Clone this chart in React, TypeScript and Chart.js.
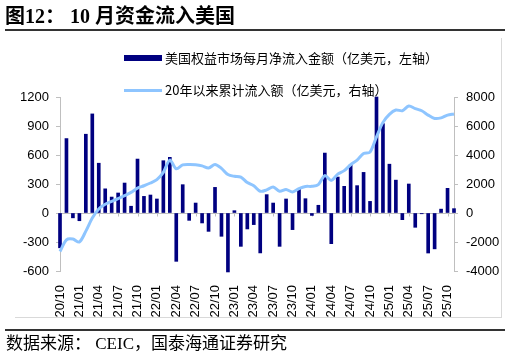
import React, { useEffect, useRef } from "react";
import { Chart, registerables } from "chart.js";
Chart.register(...registerables);

const months = [
  "20/10","20/11","20/12","21/01","21/02","21/03","21/04","21/05","21/06","21/07","21/08","21/09",
  "21/10","21/11","21/12","22/01","22/02","22/03","22/04","22/05","22/06","22/07","22/08","22/09",
  "22/10","22/11","22/12","23/01","23/02","23/03","23/04","23/05","23/06","23/07","23/08","23/09",
  "23/10","23/11","23/12","24/01","24/02","24/03","24/04","24/05","24/06","24/07","24/08","24/09",
  "24/10","24/11","24/12","25/01","25/02","25/03","25/04","25/05","25/06","25/07","25/08","25/09",
  "25/10","25/11",
];

// 美国权益市场每月净流入金额（亿美元，左轴）
const monthlyFlow = [
  -360, 770, -50, -80, 815, 1025, 515, 250, 165, 207, 310, 70,
  558, 172, 186, 145, 541, 576, -500, 293, -76, 103, -103, -190,
  265, -241, -610, 24, -345, -165, -120, -413, 190, 103, -345, 145,
  -172, 248, 148, -25, 80, 620, -317, 372, 276, 496, 283, 420,
  120, 1200, 924, 505, 340, -69, 300, -148, -8, -414, -371, 40,
  255, 45,
];

// 20年以来累计流入额（亿美元，右轴）
const cumulativeFlow = [
  -2650, -1850, -1800, -2000, -1250, -350, 280, 600, 800, 990, 1200, 1420,
  1720, 1880, 2070, 2300, 2800, 3650, 3050, 3320, 3350, 3330, 3250, 3100,
  3350, 3080, 2650, 2530, 2480, 2100, 1880, 1500, 1590, 1800, 1500, 1620,
  1450, 1680, 1830, 1840, 1960, 2580, 2250, 2680, 2920, 3330, 3650, 4100,
  4200, 5250, 6250, 6800, 7100, 7050, 7380, 7200, 7050, 6750, 6520, 6560,
  6750, 6830,
];

const leftMin = -600, leftMax = 1200, leftStep = 300;
const rightMin = -4000, rightMax = 8000, rightStep = 2000;

const BAR = "#000080";
const LINE = "#8ec5ff";
const AXIS = "#bfbfbf";
const tickFont = { family: '"Liberation Sans", Arial, sans-serif', size: 13 };

export default function App() {
  const ref = useRef<HTMLCanvasElement>(null);

  useEffect(() => {
    document.body.style.margin = "0";
    const zeroLine = {
      id: "zeroLine",
      beforeDatasetsDraw(chart: any) {
        const { ctx, chartArea, scales } = chart;
        const y = Math.round(scales.y.getPixelForValue(0)) + 0.5;
        ctx.save();
        ctx.strokeStyle = AXIS;
        ctx.lineWidth = 1;
        ctx.beginPath();
        ctx.moveTo(chartArea.left, y);
        ctx.lineTo(chartArea.right, y);
        for (let i = 0; i < months.length; i += 3) {
          const x = Math.round(scales.x.getPixelForValue(i)) + 0.5;
          ctx.moveTo(x, y);
          ctx.lineTo(x, y + 3);
        }
        ctx.stroke();
        ctx.restore();
      },
    };
    const chart = new Chart(ref.current!, {
      type: "bar",
      data: {
        labels: months,
        datasets: [
          {
            type: "line",
            data: cumulativeFlow,
            yAxisID: "y1",
            borderColor: LINE,
            borderWidth: 3,
            pointRadius: 0,
            tension: 0.3,
            order: 1,
            clip: 5,
          } as any,
          {
            type: "bar",
            data: monthlyFlow,
            yAxisID: "y",
            backgroundColor: BAR,
            barThickness: 3,
            order: 2,
            clip: 5,
          } as any,
        ],
      },
      options: {
        animation: false,
        responsive: false,
        devicePixelRatio: 1,
        layout: { padding: { top: 97, left: 0, right: 0, bottom: 0 } },
        plugins: { legend: { display: false }, tooltip: { enabled: false } },
        scales: {
          x: {
            type: "category",
            offset: false,
            grid: { display: false },
            border: { display: false },
            ticks: {
              autoSkip: false,
              minRotation: 90,
              maxRotation: 90,
              padding: 6,
              color: "#000",
              font: tickFont,
              callback: (_v: any, i: number) => (i % 3 === 0 ? months[i] : ""),
            },
            afterFit: (s: any) => { s.height = 84; },
          },
          y: {
            position: "left",
            min: leftMin,
            max: leftMax,
            ticks: { stepSize: leftStep, color: "#000", font: tickFont, padding: 7, callback: (v: any) => String(v) },
            grid: { drawOnChartArea: false, tickLength: 4, color: AXIS },
            border: { color: AXIS },
            afterFit: (s: any) => { s.width = 60; },
          },
          y1: {
            position: "right",
            min: rightMin,
            max: rightMax,
            ticks: { stepSize: rightStep, color: "#000", font: tickFont, padding: 8, callback: (v: any) => String(v) },
            grid: { drawOnChartArea: false, tickLength: 4, color: AXIS },
            border: { color: AXIS },
            afterFit: (s: any) => { s.width = 56; },
          },
        },
      },
      plugins: [zeroLine],
    });
    return () => chart.destroy();
  }, []);

  const cjk = '"Noto Sans CJK SC", sans-serif';
  const serif = '"Liberation Serif", "Noto Sans CJK SC", serif';
  return (
    <div style={{ position: "relative", width: 510, height: 355, background: "#fff", overflow: "hidden" }}>
      <canvas ref={ref} width={510} height={355} style={{ position: "absolute", left: 0, top: 0, width: 510, height: 355 }} />
      <div style={{ position: "absolute", left: 5, top: 3, fontFamily: serif, fontWeight: "bold", fontSize: 20, lineHeight: "26px", whiteSpace: "pre", color: "#000" }}>
        {"图12： 10 月资金流入美国"}
      </div>
      <div style={{ position: "absolute", left: 5, top: 29, width: 500, height: 1.5, background: "#333" }} />
      <div style={{ position: "absolute", left: 501, top: 38, width: 1, height: 280, background: "#d9d9d9" }} />
      <div style={{ position: "absolute", left: 15, top: 317, width: 487, height: 1, background: "#d9d9d9" }} />
      <div style={{ position: "absolute", left: 124, top: 55, width: 38, height: 6, background: BAR }} />
      <div style={{ position: "absolute", left: 165, top: 50, fontFamily: cjk, fontSize: 13, lineHeight: "16px", whiteSpace: "nowrap", color: "#000" }}>
        美国权益市场每月净流入金额（亿美元，左轴）
      </div>
      <div style={{ position: "absolute", left: 124, top: 89, width: 38, height: 3, background: LINE }} />
      <div style={{ position: "absolute", left: 165, top: 82, fontFamily: cjk, fontSize: 13, lineHeight: "16px", whiteSpace: "nowrap", color: "#000" }}>
        20年以来累计流入额（亿美元，右轴）
      </div>
      <div style={{ position: "absolute", left: 5, top: 329, width: 500, height: 1.5, background: "#333" }} />
      <div style={{ position: "absolute", left: 6, top: 334, fontFamily: serif, fontSize: 17, lineHeight: "20px", whiteSpace: "pre", color: "#000" }}>
        {"数据来源： CEIC，国泰海通证券研究"}
      </div>
    </div>
  );
}
